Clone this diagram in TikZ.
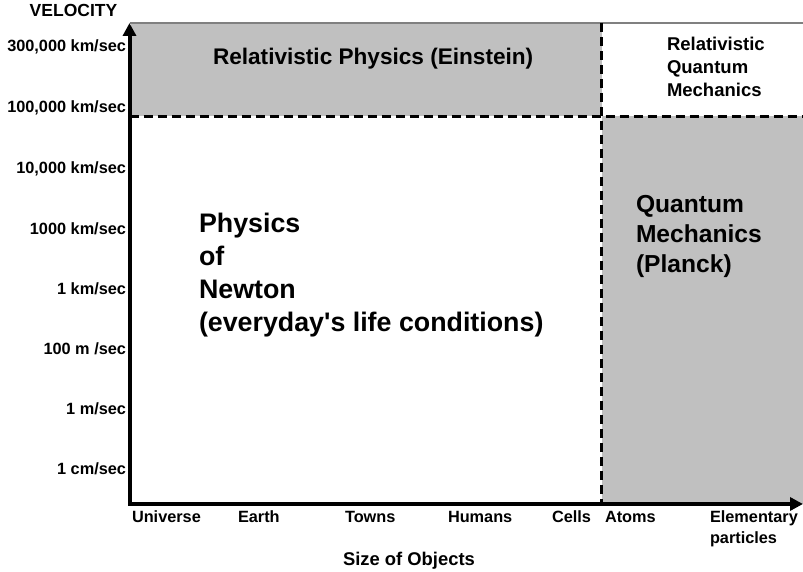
\documentclass[tikz,border=0pt]{standalone}
\usepackage{fontspec}
\setmainfont{Liberation Sans}
\usetikzlibrary{arrows.meta}
\definecolor{boxgray}{HTML}{C0C0C0}
\definecolor{rulegray}{HTML}{808080}
\begin{document}
\begin{tikzpicture}[x=1pt,y=-1pt,
  txt/.style={inner sep=0pt, outer sep=0pt, text=black},
  axislbl/.style={txt, font=\bfseries\fontsize{16.3}{19}\selectfont},
  zone/.style={fill=boxgray, draw=none},
  divider/.style={line width=3pt, dash pattern=on 9pt off 5pt},
  axisline/.style={line width=4pt, line join=miter, {Triangle[length=13pt,width=13pt]}-{Triangle[length=13pt,width=13pt]}}]
\useasboundingbox (0,0) rectangle (803,572);
% coordinates
\coordinate (origin) at (129.5,504);
\coordinate (ytip) at (129.5,23);
\coordinate (xtip) at (803,504);
\coordinate (topL) at (129.5,23);
\coordinate (topR) at (803,23);
\coordinate (midL) at (129.5,116.5);
\coordinate (midR) at (803,116.5);
\coordinate (vtop) at (601.7,23);
\coordinate (vbot) at (601.7,504);
% gray zones
\fill[zone] (131,23) rectangle (601.7,116.5);
\fill[zone] (601.7,116.5) rectangle (803,504);
% top thin rule
\draw[rulegray, line width=1.3pt] (topL) -- (topR);
% dashed dividers
\draw[divider] (midL) -- (midR);
\draw[divider] (vtop) -- (vbot);
% axes
\draw[axisline] (ytip) -- (origin) -- (xtip);
% y axis title
\node[txt, font=\bfseries\fontsize{17.5}{20}\selectfont, anchor=base] (vel) at (73.5,17) {VELOCITY};
% y labels
\node[axislbl, anchor=base east] (v1) at (126,52) {300,000 km/sec};
\node[axislbl, anchor=base east] (v2) at (126,113) {100,000 km/sec};
\node[axislbl, anchor=base east] (v3) at (126,174) {10,000 km/sec};
\node[axislbl, anchor=base east] (v4) at (126,234) {1000 km/sec};
\node[axislbl, anchor=base east] (v5) at (126,294) {1 km/sec};
\node[axislbl, anchor=base east] (v6) at (126,354) {100 m /sec};
\node[axislbl, anchor=base east] (v7) at (126,414) {1 m/sec};
\node[axislbl, anchor=base east] (v8) at (126,474) {1 cm/sec};
% x labels
\node[axislbl, anchor=base west] (s1) at (132,522) {Universe};
\node[axislbl, anchor=base west] (s2) at (238,522) {Earth};
\node[axislbl, anchor=base west] (s3) at (345,522) {Towns};
\node[axislbl, anchor=base west] (s4) at (448,522) {Humans};
\node[axislbl, anchor=base west] (s5) at (552,522) {Cells};
\node[axislbl, anchor=base west] (s6) at (605,522) {Atoms};
\node[axislbl, anchor=base west] (s7) at (710,522) {\vtop{\baselineskip=21pt\hbox{Elementary}\hbox{particles}}};
\node[txt, font=\bfseries\fontsize{18.4}{21}\selectfont, anchor=base west] (xt) at (343,565) {Size of Objects};
% region texts
\node[txt, font=\bfseries\fontsize{22.6}{26}\selectfont, anchor=base west] (einstein) at (213,65) {Relativistic Physics (Einstein)};
\node[txt, font=\bfseries\fontsize{18.5}{23}\selectfont, anchor=base west] (rqm) at (667,51) {\vtop{\baselineskip=23pt\hbox{Relativistic}\hbox{Quantum}\hbox{Mechanics}}};
\node[txt, font=\bfseries\fontsize{24.6}{30}\selectfont, anchor=base west] (planck) at (636,213) {\vtop{\baselineskip=30pt\hbox{Quantum}\hbox{Mechanics}\hbox{(Planck)}}};
\node[txt, font=\bfseries\fontsize{26.8}{32.8}\selectfont, anchor=base west] (newton) at (199,233) {\vtop{\baselineskip=32.8pt\hbox{Physics}\hbox{of}\hbox{Newton}\hbox{(everyday\textquotesingle s life conditions)}}};
\end{tikzpicture}
\end{document}
